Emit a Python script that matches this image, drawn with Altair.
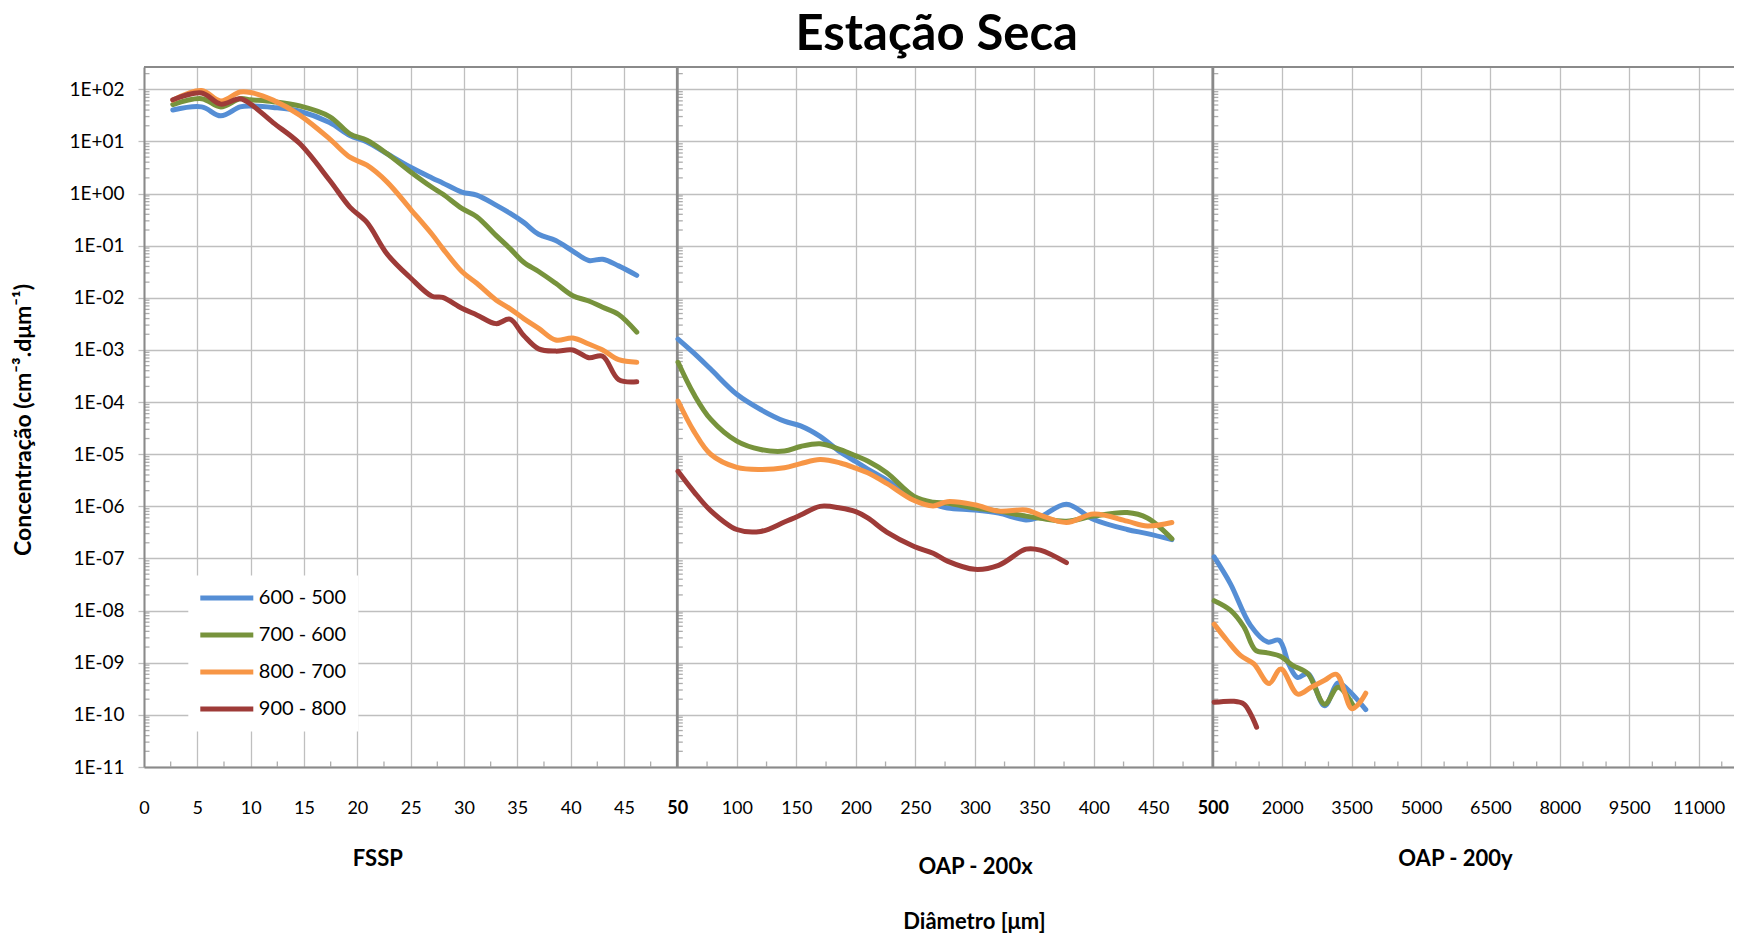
import altair as alt
import pandas as pd

FONT = "Lato"
SERIES = ["600 - 500", "700 - 600", "800 - 700", "900 - 800"]
COLORS = ["#558ED5", "#77933C", "#F79646", "#9E3B38"]

# ---------------- data ----------------
FSSP_X = [2.7, 5.4, 7.2, 9.0, 10.0, 12.1, 14.6, 17.4, 19.3, 20.9, 22.8, 25.0, 27.0,
          28.0, 29.8, 31.2, 33.0, 34.3, 35.6, 37.0, 38.6, 40.2, 41.7, 43.0, 44.5, 46.2]
FSSP_600_500 = [40, 46, 31, 46, 48, 45, 38, 23, 13, 9.8, 5.8, 3.2, 2.0,
                1.6, 1.07, 0.93, 0.60, 0.42, 0.28, 0.166, 0.126, 0.079, 0.052, 0.055, 0.041, 0.027]
FSSP_700_600 = [51, 66, 46, 66, 63, 58, 48, 30, 14, 10.5, 5.8, 2.6, 1.32,
                0.98, 0.52, 0.36, 0.158, 0.089, 0.048, 0.032, 0.019, 0.011, 0.0087, 0.0066, 0.0048, 0.0022]
FSSP_800_700 = [62, 95, 60, 89, 87, 62, 32, 11.2, 5.0, 3.5, 1.66, 0.50, 0.166,
                0.089, 0.032, 0.019, 0.0091, 0.0062, 0.0040, 0.0026, 0.00155, 0.0017, 0.0013, 0.0010, 0.00065, 0.00058]
FSSP_900_800 = [63, 85, 52, 66, 52, 23, 9.1, 1.8, 0.55, 0.28, 0.069, 0.024, 0.0107,
                0.0102, 0.0063, 0.0047, 0.0032, 0.0039, 0.0019, 0.00105, 0.00095, 0.0010, 0.00071, 0.00076, 0.00027, 0.000245]

OAPX_X = [50.6, 64, 78, 100, 120, 140, 153.6, 170, 187, 200, 210, 226, 249, 265, 277,
          300, 320, 343, 355, 377, 400, 428, 445, 465.6]
OAPX_600_500 = [1.62e-3, 8.7e-4, 4.3e-4, 1.41e-4, 7.2e-5, 4.3e-5, 3.5e-5, 2.2e-5, 1.10e-5, 7.2e-6,
                5.2e-6, 3.2e-6, 1.45e-6, 1.10e-6, 9.3e-7, 8.5e-7, 7.4e-7, 5.5e-7, 6.3e-7, 1.10e-6,
                5.6e-7, 3.6e-7, 3.0e-7, 2.3e-7]
OAPX_700_600 = [5.8e-4, 1.41e-4, 4.7e-5, 1.78e-5, 1.23e-5, 1.15e-5, 1.41e-5, 1.58e-5, 1.23e-5, 9.3e-6,
                7.4e-6, 4.4e-6, 1.55e-6, 1.20e-6, 1.15e-6, 9.3e-7, 8.1e-7, 6.5e-7, 5.9e-7, 5.2e-7,
                6.5e-7, 7.6e-7, 6.0e-7, 2.4e-7]
OAPX_800_700 = [1.05e-4, 2.75e-5, 1.0e-5, 5.6e-6, 5.1e-6, 5.5e-6, 6.6e-6, 7.9e-6, 6.8e-6, 5.4e-6,
                4.4e-6, 2.75e-6, 1.29e-6, 1.02e-6, 1.23e-6, 1.07e-6, 8.1e-7, 8.5e-7, 6.8e-7, 4.9e-7,
                7.1e-7, 5.2e-7, 4.2e-7, 4.9e-7]
OAPX_900_800 = [4.7e-6, 1.9e-6, 8.3e-7, 3.6e-7, 3.3e-7, 5.0e-7, 6.8e-7, 1.0e-6, 9.3e-7, 7.9e-7,
                6.0e-7, 3.2e-7, 1.7e-7, 1.26e-7, 8.9e-8, 6.2e-8, 7.4e-8, 1.51e-7, 1.45e-7, 8.3e-8,
                None, None, None, None]

OAPY_X_600_500 = [529, 879, 1315, 1680, 1934, 2153, 2335, 2553, 2917, 3209, 3427, 3806]
OAPY_600_500 = [1.07e-7, 3.3e-8, 5.2e-9, 2.5e-9, 2.7e-9, 8.9e-10, 5.2e-10, 6.2e-10, 1.5e-10,
                4.1e-10, 3.0e-10, 1.26e-10]
OAPY_X_700_600 = [529, 879, 1170, 1425, 1680, 1971, 2226, 2553, 2917, 3209, 3536]
OAPY_700_600 = [1.55e-8, 1.02e-8, 4.9e-9, 1.74e-9, 1.55e-9, 1.32e-9, 8.9e-10, 6.2e-10, 1.6e-10,
                3.4e-10, 1.5e-10]
OAPY_X_800_700 = [529, 806, 1097, 1388, 1716, 1971, 2335, 2626, 2917, 3172, 3500, 3646, 3806]
OAPY_800_700 = [5.5e-9, 2.7e-9, 1.38e-9, 9.5e-10, 4.0e-10, 7.6e-10, 2.5e-10, 3.4e-10, 4.6e-10,
                6.0e-10, 1.32e-10, 1.6e-10, 2.6e-10]
OAPY_X_900_800 = [529, 951, 1170, 1315, 1447]
OAPY_900_800 = [1.74e-10, 1.82e-10, 1.62e-10, 1.05e-10, 5.8e-11]

X_TICKS = [0, 5, 10, 15, 20, 25, 30, 35, 40, 45,
           50, 100, 150, 200, 250, 300, 350, 400, 450,
           500, 2000, 3500, 5000, 6500, 8000, 9500, 11000]
Y_TICKS = [1e-11, 1e-10, 1e-9, 1e-8, 1e-7, 1e-6, 1e-5, 1e-4, 1e-3, 1e-2, 1e-1, 1e0, 1e1, 1e2]
PANEL_BREAKS = [50, 500]

# ---------------- table ----------------
rows = []
def add(instr, xs, ys, serie):
    for x, y in zip(xs, ys):
        if y is not None:
            rows.append({"instr": instr, "serie": serie, "diam": x, "conc": y})

for s, f, ox, (yx, yv) in zip(
    SERIES,
    [FSSP_600_500, FSSP_700_600, FSSP_800_700, FSSP_900_800],
    [OAPX_600_500, OAPX_700_600, OAPX_800_700, OAPX_900_800],
    [(OAPY_X_600_500, OAPY_600_500), (OAPY_X_700_600, OAPY_700_600),
     (OAPY_X_800_700, OAPY_800_700), (OAPY_X_900_800, OAPY_900_800)],
):
    add("FSSP", FSSP_X, f, s)
    add("OAP - 200x", OAPX_X, ox, s)
    add("OAP - 200y", yx, yv, s)
df = pd.DataFrame(rows)

# ---------------- layout ----------------
W, H = 1590, 700
X_END = 11765
Y_TOP = 10 ** 2.428
x_scale = alt.Scale(domain=[0, 50, 500, X_END], range=[0, 533.3, 1068.8, W], nice=False, zero=False)
y_scale = alt.Scale(type="log", domain=[1e-11, Y_TOP], nice=False)

GRID = "#BFBFBF"
AXIS = "#8A8A8A"
LW = 5

x_axis = alt.Axis(
    values=X_TICKS, format="d", grid=True, gridColor=GRID, gridWidth=1.3,
    tickSize=0, labelPadding=41, labelBaseline="middle", labelFont=FONT, labelFontSize=18,
    labelColor="#000", labelFlush=False, labelOverlap=False,
    labelFontWeight={"condition": {"test": "datum.value == 50 || datum.value == 500", "value": "bold"},
                     "value": "normal"},
    domainColor=AXIS, domainWidth=2, title=None,
)
y_axis = alt.Axis(
    values=Y_TICKS, grid=True, gridColor=GRID, gridWidth=1.3,
    tickSize=6, tickColor=GRID, tickWidth=1.3, labelPadding=14, labelFont=FONT, labelFontSize=19,
    labelColor="#000", labelFlush=False, labelOverlap=False,
    labelExpr="'1E' + (datum.value >= 1 ? '+' : '-') + pad(toString(abs(round(log(datum.value) / LN10))), 2, '0', 'left')",
    domainColor=AXIS, domainWidth=2, title=None,
)

legend = alt.Legend(
    title=None, orient="none", legendX=44.3, legendY=508.5, direction="vertical",
    symbolType="M-3.3125,0L3.3125,0", symbolSize=256, symbolStrokeWidth=LW, symbolOffset=16,
    labelOffset=21.5, labelFont=FONT, labelFontSize=20, labelColor="#000", rowPadding=16,
    fillColor="white", padding=12,
)

lines = alt.Chart(df).mark_line(
    strokeWidth=LW, interpolate="catmull-rom", strokeCap="round", strokeJoin="round"
).encode(
    x=alt.X("diam:Q", scale=x_scale, axis=x_axis),
    y=alt.Y("conc:Q", scale=y_scale, axis=y_axis),
    color=alt.Color("serie:N", scale=alt.Scale(domain=SERIES, range=COLORS), legend=legend),
    detail="instr:N",
)

# minor ticks along the left axis and the two panel separators
Y_MINOR = [m * 10.0 ** k for k in range(-11, 3) for m in range(2, 10) if m * 10.0 ** k < Y_TOP]
ymin_df = pd.DataFrame([{"xv": xv, "yv": yv} for xv in [0] + PANEL_BREAKS for yv in Y_MINOR])
y_minor = alt.Chart(ymin_df).mark_tick(
    orient="horizontal", size=5, thickness=1.3, xOffset=3, color=AXIS
).encode(
    x=alt.X("xv:Q", scale=x_scale, axis=x_axis),
    y=alt.Y("yv:Q", scale=y_scale, axis=y_axis),
)

X_MINOR = ([2.5 + 5 * i for i in range(10)] + [75 + 50 * i for i in range(9)]
           + [v for v in range(1000, X_END, 500) if (v - 500) % 1500 != 0])
x_minor = alt.Chart(pd.DataFrame({"xv": X_MINOR})).mark_tick(
    orient="vertical", size=5, thickness=1.3, yOffset=-3, color=AXIS
).encode(
    x=alt.X("xv:Q", scale=x_scale, axis=x_axis),
    y=alt.YDatum(1e-11, scale=y_scale, axis=y_axis),
)

dividers = alt.Chart(pd.DataFrame({"d": PANEL_BREAKS})).mark_rule(
    color=AXIS, strokeWidth=2.8
).encode(x=alt.X("d:Q", scale=x_scale, axis=x_axis))

top_border = alt.Chart(pd.DataFrame({"a": [0]})).mark_rule(color=AXIS, strokeWidth=2).encode(
    x=alt.XDatum(0, scale=x_scale, axis=x_axis),
    x2=alt.X2Datum(X_END),
    y=alt.YDatum(Y_TOP, scale=y_scale, axis=y_axis),
)


def text_layer(text, x, y, size, weight="bold", angle=0, baseline="middle"):
    return alt.Chart(pd.DataFrame({"t": [text]})).mark_text(
        font=FONT, fontSize=size, fontWeight=weight, color="#000",
        align="center", baseline=baseline, angle=angle,
    ).encode(text="t:N", x=alt.value(x), y=alt.value(y))


texts = [
    text_layer("Estação Seca", 792.7, -17.5, 49, baseline="alphabetic"),
    text_layer("Concentração (cm⁻³.dμm⁻¹)", -120, 353, 23, angle=270),
    text_layer("FSSP", 233.8, 792, 22),
    text_layer("OAP - 200x", 831.5, 800, 22),
    text_layer("OAP - 200y", 1311.5, 792, 22),
    text_layer("Diâmetro [μm]", 830.4, 855, 22),
]

chart = alt.layer(
    dividers, top_border, y_minor, x_minor, lines, *texts
).properties(
    width=W, height=H,
    autosize=alt.AutoSizeParams(type="none"),
    padding={"left": 136, "top": 59, "right": 0, "bottom": 167},
    background="white",
).configure_view(strokeWidth=0)

chart.save("out.html", embed_options={"renderer": "svg", "actions": False})
